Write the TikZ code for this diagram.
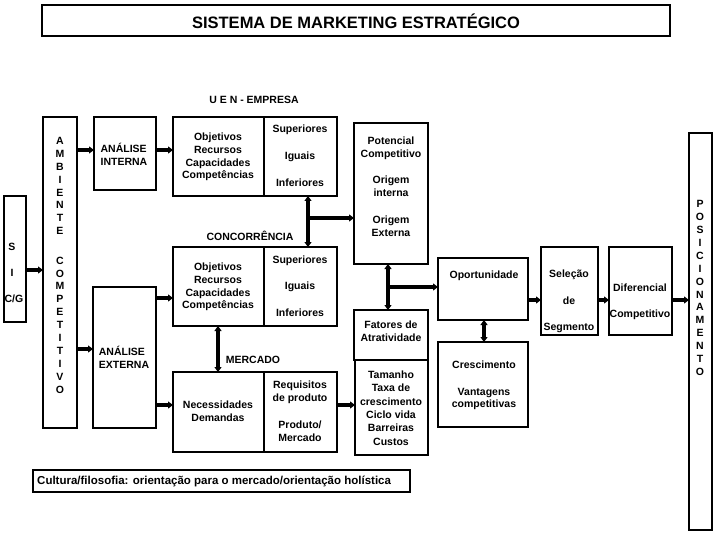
\documentclass[tikz,border=0pt]{standalone}
\usepackage{fontspec}
\setmainfont{Liberation Sans}
\usetikzlibrary{arrows.meta}
\begin{document}
\begin{tikzpicture}[x=1pt,y=-1pt,
  bx/.style={draw,line width=2pt},
  t/.style={font=\bfseries\fontsize{10.5}{12.7}\selectfont,align=center,inner sep=0},
  ar/.style={line width=4pt,-{Triangle[length=5pt,width=7pt]}},
  dar/.style={line width=4pt,{Triangle[length=5pt,width=7pt]}-{Triangle[length=5pt,width=7pt]}},
  ln/.style={line width=4pt}]
\useasboundingbox[fill=white] (0,0) rectangle (720,540);
% title
\draw[bx,line width=1.5pt] (42,5) rectangle (670,36);
\node[t,font=\bfseries\fontsize{16.5}{19}\selectfont] (title) at (356,21) {SISTEMA DE MARKETING ESTRATÉGICO};
\node[t] (uen) at (254,100) {U E N - EMPRESA};
% SIC
\draw[bx] (4,196) rectangle (26,322);
\node[t] (s) at (12,247) {S};
\node[t] (i) at (12,273) {I};
\node[t] (cg) at (14,299) {C/G};
\coordinate (sicR) at (26,270);
% ambiente
\draw[bx] (43,117) rectangle (77,428);
\node[t,font=\bfseries\fontsize{10.5}{12.9}\selectfont] (amb) at (60,186) {A\\M\\B\\I\\E\\N\\T\\E};
\node[t,font=\bfseries\fontsize{10.5}{12.9}\selectfont] (comp) at (60,325) {C\\O\\M\\P\\E\\T\\I\\T\\I\\V\\O};
% analise
\draw[bx] (94,117) rectangle (156,190);
\node[t,align=left] (ai) at (124,154) {ANÁLISE\\INTERNA};
\draw[bx] (93,287) rectangle (156,428);
\node[t,align=left] (ae) at (124,357) {ANÁLISE\\EXTERNA};
% box1
\draw[bx] (173,117) rectangle (337,196); \draw[line width=2pt] (264,117) -- (264,196);
\node[t] (b1l) at (218,157) {Objetivos\\Recursos\\Capacidades\\Competências};
\node[t] (b1a) at (300,130) {Superiores};
\node[t] (b1b) at (300,157) {Iguais};
\node[t] (b1c) at (300,183) {Inferiores};
\node[t] (conc) at (250,236) {CONCORRÊNCIA};
% box2
\draw[bx] (173,247) rectangle (337,326); \draw[line width=2pt] (264,247) -- (264,326);
\node[t] (b2l) at (218,287) {Objetivos\\Recursos\\Capacidades\\Competências};
\node[t] (b2a) at (300,261) {Superiores};
\node[t] (b2b) at (300,287) {Iguais};
\node[t] (b2c) at (300,313) {Inferiores};
\node[t] (merc) at (253,360) {MERCADO};
% box3
\draw[bx] (173,372) rectangle (337,452); \draw[line width=2pt] (264,372) -- (264,452);
\node[t] (b3l) at (218,411) {Necessidades\\Demandas};
\node[t] (b3a) at (300,392) {Requisitos\\de produto};
\node[t] (b3b) at (300,431) {Produto/\\Mercado};
% potencial
\draw[bx] (354,123) rectangle (428,264);
\node[t] (pot) at (391,148) {Potencial\\Competitivo};
\node[t] (oi) at (391,186) {Origem\\interna};
\node[t] (oe) at (391,226) {Origem\\Externa};
% fatores / tamanho
\draw[bx] (354,310) rectangle (428,360);
\node[t] (fat) at (391,331) {Fatores de\\Atratividade};
\draw[bx] (355,360) rectangle (428,455);
\node[t,font=\bfseries\fontsize{10.5}{13.3}\selectfont] (tam) at (391,408) {Tamanho\\Taxa de\\crescimento\\Ciclo vida\\Barreiras\\Custos};
% oportunidade / crescimento
\draw[bx] (438,258) rectangle (528,320);
\node[t] (op) at (484,276) {Oportunidade};
\draw[bx] (438,342) rectangle (528,427);
\node[t] (cr) at (484,365) {Crescimento};
\node[t] (va) at (484,399) {Vantagens\\competitivas};
% selecao / diferencial / posicionamento
\draw[bx] (541,247) rectangle (598,335);
\node[t] (sel) at (569,275) {Seleção};
\node[t] (de) at (569,301) {de};
\node[t] (seg) at (569,328) {Segmento};
\draw[bx] (609,247) rectangle (672,335);
\node[t] (dif) at (640,288) {Diferencial};
\node[t] (cmp) at (640,315) {Competitivo};
\draw[bx] (689,133) rectangle (712,530);
\node[t,font=\bfseries\fontsize{10.5}{12.9}\selectfont] (pos) at (700,288) {P\\O\\S\\I\\C\\I\\O\\N\\A\\M\\E\\N\\T\\O};
% cultura
\draw[bx,line width=1.5pt] (33,470) rectangle (410,492);
\node[t,anchor=west,font=\bfseries\fontsize{11.5}{13}\selectfont] (cul) at (37,481) {Cultura/filosofia: orientação para o mercado/orientação holística};
% arrows
\draw[ar] (sicR) -- (43,270);
\draw[ar] (77,150) -- (94,150);
\draw[ar] (156,150) -- (173,150);
\draw[ar] (77,349) -- (93,349);
\draw[ar] (156,298) -- (173,298);
\draw[ar] (156,405) -- (173,405);
\draw[dar] (308,196) -- (308,247);
\draw[ar] (308,218) -- (354,218);
\draw[dar] (218,326) -- (218,372);
\draw[ar] (337,405) -- (355,405);
\draw[dar] (388,264) -- (388,310);
\draw[ar] (388,287) -- (438,287);
\draw[dar] (484,320) -- (484,342);
\draw[ar] (528,300) -- (541,300);
\draw[ar] (598,300) -- (609,300);
\draw[ar] (672,300) -- (689,300);
\end{tikzpicture}
\end{document}
